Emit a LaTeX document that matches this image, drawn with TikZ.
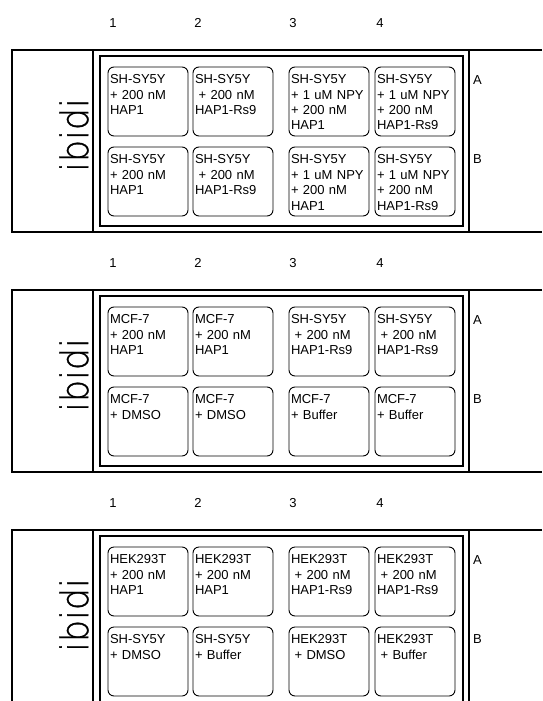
\documentclass[tikz,border=0pt]{standalone}
\usepackage{fontspec}
\setmainfont{Liberation Sans}
\newfontfamily\ibidifont[FakeBold=0.8]{DejaVu Sans ExtraLight}
\usetikzlibrary{positioning}
\newcommand{\wellindent}{\hspace*{3.6pt}}
\tikzset{
  slideline/.style = {line width=1.2pt},
  chamber/.style   = {line width=1.3pt},
  rimline/.style   = {line width=2.2pt},
  well/.style      = {draw, line width=0.9pt, rounded corners=6pt,
    text width=76pt, align=left, inner xsep=2pt, inner ysep=0pt,
    text height=16.5pt, text depth=52.5pt, outer sep=0pt,
    font=\fontsize{13}{15.5}\selectfont},
  colnum/.style    = {inner sep=0pt, font=\fontsize{13}{15.5}\selectfont},
  rowlabel/.style  = {anchor=west, inner sep=0pt, font=\fontsize{13}{15.5}\selectfont},
  logo/.style      = {rotate=90, inner sep=0pt, xscale=0.92,
    font=\ibidifont\fontsize{38}{38}\selectfont},
}

\begin{document}
\begin{tikzpicture}[x=1pt, y=-1pt]
  \clip (0,0) rectangle (542,701);

  % slide 1
  \begin{scope}[shift={(0,0)}]
    \draw[slideline] (542,50) -- (12,50) -- (12,232) -- (542,232);
    \draw[slideline] (93,50) -- (93,232);
    \draw[rimline] (469,50) -- (469,232);
    \draw[chamber] (100,56) rectangle (463,226);
    \node[logo] (logo1) at (74,135) {ibidi};
    \node[colnum] (n1c1) at (113,23) {1};
    \node[colnum] (n1c2) at (198,23) {2};
    \node[colnum] (n1c3) at (293,23) {3};
    \node[colnum] (n1c4) at (380,23) {4};
    \node[rowlabel] (r1A) at (473,80) {A};
    \node[rowlabel] (r1B) at (473,159) {B};
    \node[well, anchor=north west] (w1A1) at (108,67) {SH-SY5Y\\+ 200 nM\\HAP1};
    \node[well, right=5pt of w1A1] (w1A2) {SH-SY5Y\\\wellindent+ 200 nM\\HAP1-Rs9};
    \node[well, right=16pt of w1A2] (w1A3) {SH-SY5Y\\+ 1 uM NPY\\+ 200 nM\\HAP1};
    \node[well, right=6pt of w1A3] (w1A4) {SH-SY5Y\\+ 1 uM NPY\\+ 200 nM\\HAP1-Rs9};
    \node[well, below=11pt of w1A1] (w1B1) {SH-SY5Y\\+ 200 nM\\HAP1};
    \node[well, right=5pt of w1B1] (w1B2) {SH-SY5Y\\\wellindent+ 200 nM\\HAP1-Rs9};
    \node[well, right=16pt of w1B2] (w1B3) {SH-SY5Y\\+ 1 uM NPY\\+ 200 nM\\HAP1};
    \node[well, right=6pt of w1B3] (w1B4) {SH-SY5Y\\+ 1 uM NPY\\+ 200 nM\\HAP1-Rs9};
  \end{scope}

  % slide 2
  \begin{scope}[shift={(0,240)}]
    \draw[slideline] (542,50) -- (12,50) -- (12,232) -- (542,232);
    \draw[slideline] (93,50) -- (93,232);
    \draw[rimline] (469,50) -- (469,232);
    \draw[chamber] (100,56) rectangle (463,226);
    \node[logo] (logo2) at (74,135) {ibidi};
    \node[colnum] (n2c1) at (113,23) {1};
    \node[colnum] (n2c2) at (198,23) {2};
    \node[colnum] (n2c3) at (293,23) {3};
    \node[colnum] (n2c4) at (380,23) {4};
    \node[rowlabel] (r2A) at (473,80) {A};
    \node[rowlabel] (r2B) at (473,159) {B};
    \node[well, anchor=north west] (w2A1) at (108,67) {MCF-7\\+ 200 nM\\HAP1};
    \node[well, right=5pt of w2A1] (w2A2) {MCF-7\\+ 200 nM\\HAP1};
    \node[well, right=16pt of w2A2] (w2A3) {SH-SY5Y\\\wellindent+ 200 nM\\HAP1-Rs9};
    \node[well, right=6pt of w2A3] (w2A4) {SH-SY5Y\\\wellindent+ 200 nM\\HAP1-Rs9};
    \node[well, below=11pt of w2A1] (w2B1) {MCF-7\\+ DMSO};
    \node[well, right=5pt of w2B1] (w2B2) {MCF-7\\+ DMSO};
    \node[well, right=16pt of w2B2] (w2B3) {MCF-7\\+ Buffer};
    \node[well, right=6pt of w2B3] (w2B4) {MCF-7\\+ Buffer};
  \end{scope}

  % slide 3
  \begin{scope}[shift={(0,480)}]
    \draw[slideline] (542,50) -- (12,50) -- (12,232) -- (542,232);
    \draw[slideline] (93,50) -- (93,232);
    \draw[rimline] (469,50) -- (469,232);
    \draw[chamber] (100,56) rectangle (463,226);
    \node[logo] (logo3) at (74,135) {ibidi};
    \node[colnum] (n3c1) at (113,23) {1};
    \node[colnum] (n3c2) at (198,23) {2};
    \node[colnum] (n3c3) at (293,23) {3};
    \node[colnum] (n3c4) at (380,23) {4};
    \node[rowlabel] (r3A) at (473,80) {A};
    \node[rowlabel] (r3B) at (473,159) {B};
    \node[well, anchor=north west] (w3A1) at (108,67) {HEK293T\\+ 200 nM\\HAP1};
    \node[well, right=5pt of w3A1] (w3A2) {HEK293T\\+ 200 nM\\HAP1};
    \node[well, right=16pt of w3A2] (w3A3) {HEK293T\\\wellindent+ 200 nM\\HAP1-Rs9};
    \node[well, right=6pt of w3A3] (w3A4) {HEK293T\\\wellindent+ 200 nM\\HAP1-Rs9};
    \node[well, below=11pt of w3A1] (w3B1) {SH-SY5Y\\+ DMSO};
    \node[well, right=5pt of w3B1] (w3B2) {SH-SY5Y\\+ Buffer};
    \node[well, right=16pt of w3B2] (w3B3) {HEK293T\\\wellindent+ DMSO};
    \node[well, right=6pt of w3B3] (w3B4) {HEK293T\\\wellindent+ Buffer};
  \end{scope}
\end{tikzpicture}
\end{document}
